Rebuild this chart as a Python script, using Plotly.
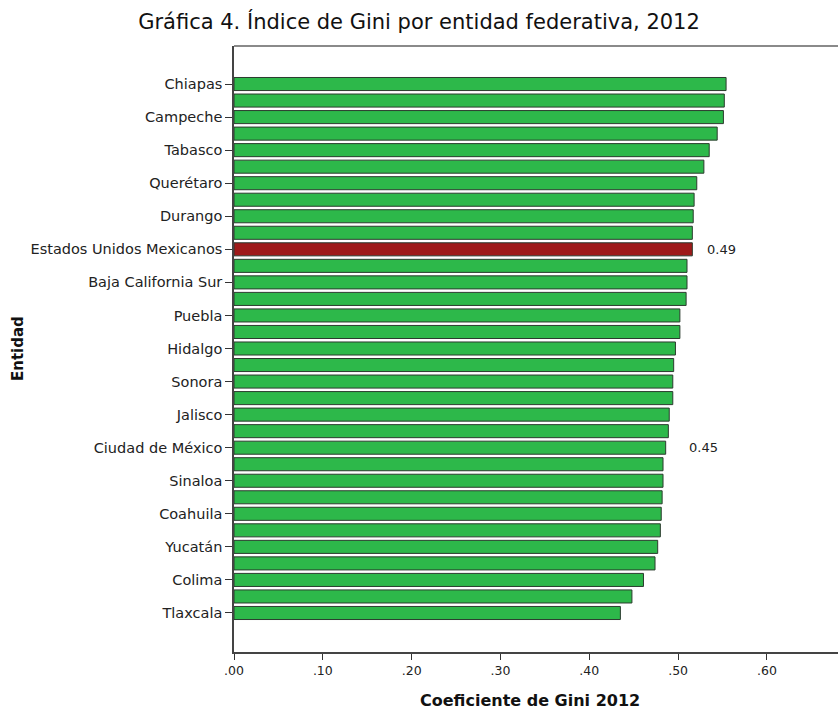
import plotly.graph_objects as go

entidades = [
    "Chiapas", "Guerrero", "Campeche", "Oaxaca", "Tabasco", "Chihuahua",
    "Querétaro", "Veracruz", "Durango", "Nuevo León",
    "Estados Unidos Mexicanos", "San Luis Potosí", "Baja California Sur",
    "Quintana Roo", "Puebla", "Michoacán", "Hidalgo", "Zacatecas", "Sonora",
    "Nayarit", "Jalisco", "Guanajuato", "Ciudad de México", "Aguascalientes",
    "Sinaloa", "Baja California", "Coahuila", "Tamaulipas", "Yucatán",
    "Morelos", "Colima", "México", "Tlaxcala",
]
gini = [
    0.554, 0.552, 0.551, 0.544, 0.535, 0.529, 0.521, 0.518, 0.517, 0.516,
    0.516, 0.510, 0.510, 0.509, 0.502, 0.502, 0.497, 0.495, 0.494, 0.494,
    0.490, 0.489, 0.486, 0.483, 0.483, 0.482, 0.481, 0.480, 0.477, 0.474,
    0.461, 0.448, 0.435,
]
etiquetas_y = [
    "Chiapas", "Campeche", "Tabasco", "Querétaro", "Durango",
    "Estados Unidos Mexicanos", "Baja California Sur", "Puebla", "Hidalgo",
    "Sonora", "Jalisco", "Ciudad de México", "Sinaloa", "Coahuila", "Yucatán",
    "Colima", "Tlaxcala",
]
ticks_x = [0, 0.1, 0.2, 0.3, 0.4, 0.5, 0.6]
ticks_x_texto = [".00", ".10", ".20", ".30", ".40", ".50", ".60"]
notas = [("Estados Unidos Mexicanos", "0.49", 0.530), ("Ciudad de México", "0.45", 0.510)]

colores = ["#9E1A1A" if e == "Estados Unidos Mexicanos" else "#2DB84A" for e in entidades]

FONT = "DejaVu Sans, Liberation Sans, Arial, sans-serif"

fig = go.Figure(go.Bar(
    x=gini, y=entidades, orientation="h",
    marker=dict(color=colores, line=dict(color="#2B3B2E", width=1)),
    width=0.79, hoverinfo="x+y",
))

for ent, txt, xpos in notas:
    fig.add_annotation(x=xpos, y=ent, text=txt, showarrow=False, xanchor="left",
                       font=dict(size=13, color="#222", family=FONT))

# axis titles placed as annotations
fig.add_annotation(xref="paper", yref="paper", x=0.49, y=-0.08, yanchor="middle",
                   text="<b>Coeficiente de Gini 2012</b>", showarrow=False,
                   font=dict(size=16, color="#111", family=FONT))
fig.add_annotation(xref="paper", yref="paper", x=(18 - 234) / 604, y=0.5,
                   xanchor="center", yanchor="middle", textangle=-90,
                   text="<b>Entidad</b>", showarrow=False,
                   font=dict(size=15, color="#111", family=FONT))

n = len(entidades)
fig.update_layout(
    width=838, height=711,
    margin=dict(l=234, r=0, t=46, b=59),
    paper_bgcolor="white", plot_bgcolor="white",
    showlegend=False,
    title=dict(text="Gráfica 4. Índice de Gini por entidad federativa, 2012",
               x=0.5, xref="container", xanchor="center", y=0.969, yanchor="middle",
               font=dict(size=21, color="#111", family=FONT)),
    xaxis=dict(range=[0, 0.68], tickvals=ticks_x, ticktext=ticks_x_texto,
               ticks="outside", ticklen=6, tickcolor="#333", showgrid=False,
               zeroline=False, showline=True, linecolor="#444", linewidth=1.5,
               tickfont=dict(size=12.5, color="#222", family=FONT)),
    yaxis=dict(type="category", categoryorder="array", categoryarray=entidades,
               range=[n - 1 + 2.36, -2.3], tickvals=etiquetas_y,
               ticks="outside", ticklen=7, tickcolor="#333", showgrid=False,
               zeroline=False, showline=True, linecolor="#444", linewidth=1.5,
               tickfont=dict(size=14.5, color="#222", family=FONT)),
)
fig.add_shape(type="line", xref="paper", yref="paper", x0=0, x1=1, y0=1, y1=1,
              line=dict(color="#8A8A8A", width=2))

fig.write_html("out.html")
